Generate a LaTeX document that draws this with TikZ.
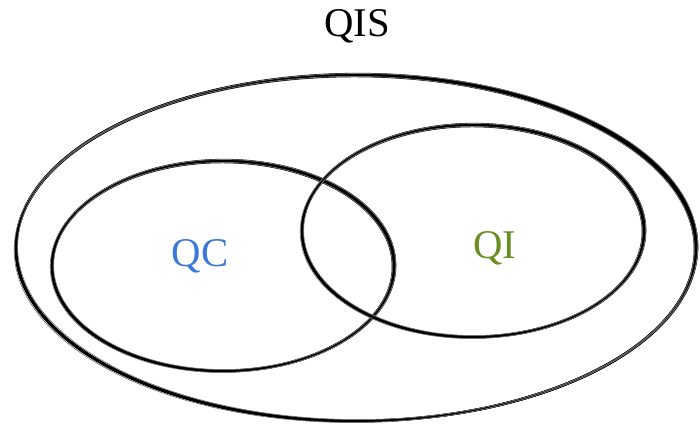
\documentclass[tikz,border=0pt]{standalone}
\usepackage{fontspec}
\setmainfont{Liberation Serif}
\usetikzlibrary{positioning}
\definecolor{qcblue}{RGB}{60,120,216}
\definecolor{qigreen}{RGB}{106,142,35}
\tikzset{pen/.style={line width=1.9pt,black},
 faint/.style={line width=.5pt,black!55},
 lbl/.style={font=\fontsize{29}{31}\selectfont,inner sep=0pt}}

\begin{document}
\begin{tikzpicture}[x=.025cm,y=-.025cm]
\useasboundingbox (0,0) rectangle (700,427);
% sketchy outlines: each set is stroked a few times, slightly off
\foreach \cx/\cy/\rx/\ry in {356/248/340/173,223/266/171/105,473/231/171/106}{
 \foreach \dx/\dy/\dr/\a in {0/0/0/0,.5/-.3/.5/.15,-.4/.4/-.5/-.12}
  \draw[pen,rotate around={\a:(\cx,\cy)}] (\cx+\dx,\cy+\dy) ellipse [x radius=\rx+\dr, y radius=\ry+\dr];
 \draw[faint,rotate around={.4:(\cx,\cy)}] (\cx,\cy) ellipse [x radius=\rx+1.8, y radius=\ry+1.5];
 \draw[faint,rotate around={-.3:(\cx,\cy)}] (\cx,\cy) ellipse [x radius=\rx-1.6, y radius=\ry-1.4];
}
\node[lbl](qis) at(357,26){QIS};
\node[lbl,text=qcblue](qc) at(200,256){QC};
\node[lbl,text=qigreen](qi) at(495,248){QI};
\end{tikzpicture}
\end{document}
